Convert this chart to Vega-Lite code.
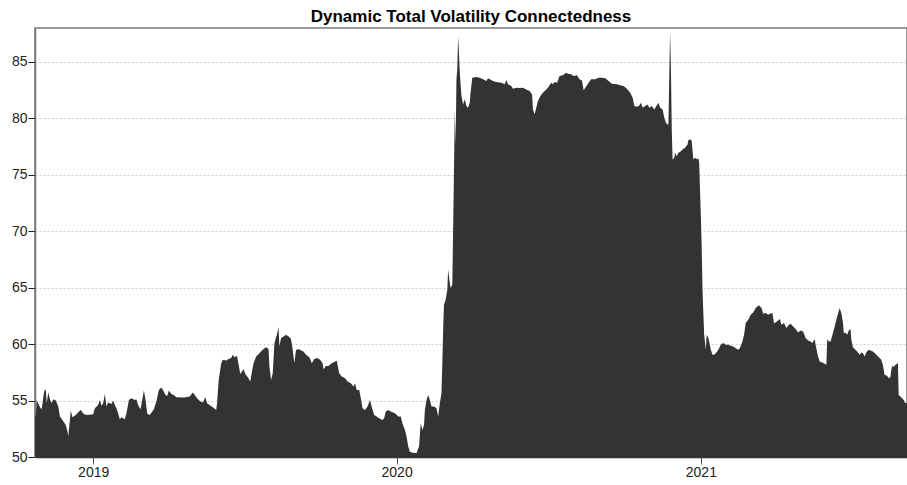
{
  "$schema": "https://vega.github.io/schema/vega-lite/v6.json",
  "width": 872,
  "height": 429,
  "autosize": {"type": "none"},
  "padding": {"left": 35, "top": 28, "right": 0, "bottom": 28},
  "background": "#ffffff",
  "title": {"text": "Dynamic Total Volatility Connectedness", "font": "Liberation Sans", "fontSize": 17, "fontWeight": "bold", "color": "#000000", "anchor": "middle", "offset": 2},
  "config": {"view": {"stroke": "#777777", "strokeWidth": 1.5}, "font": "Liberation Sans"},
  "data": {"values": [
    {"d": "2018-10-23", "tc": 53.6}, {"d": "2018-10-24", "tc": 53.6}, {"d": "2018-10-25", "tc": 55.06}, {"d": "2018-10-29", "tc": 54.41}, {"d": "2018-10-31", "tc": 54.23},
    {"d": "2018-11-03", "tc": 55.8}, {"d": "2018-11-05", "tc": 56.0}, {"d": "2018-11-06", "tc": 54.76}, {"d": "2018-11-08", "tc": 55.71}, {"d": "2018-11-10", "tc": 55.12},
    {"d": "2018-11-12", "tc": 54.76}, {"d": "2018-11-14", "tc": 55.12}, {"d": "2018-11-17", "tc": 55.0}, {"d": "2018-11-20", "tc": 54.47}, {"d": "2018-11-22", "tc": 53.58},
    {"d": "2018-11-25", "tc": 53.28}, {"d": "2018-11-29", "tc": 52.84}, {"d": "2018-12-01", "tc": 52.25}, {"d": "2018-12-02", "tc": 51.86}, {"d": "2018-12-04", "tc": 53.28},
    {"d": "2018-12-05", "tc": 54.11}, {"d": "2018-12-07", "tc": 53.52}, {"d": "2018-12-11", "tc": 53.73}, {"d": "2018-12-15", "tc": 54.02}, {"d": "2018-12-17", "tc": 54.17},
    {"d": "2018-12-21", "tc": 53.79}, {"d": "2018-12-25", "tc": 53.73}, {"d": "2019-01-01", "tc": 53.79}, {"d": "2019-01-03", "tc": 54.32}, {"d": "2019-01-07", "tc": 54.61},
    {"d": "2019-01-09", "tc": 55.06}, {"d": "2019-01-11", "tc": 54.53}, {"d": "2019-01-13", "tc": 54.76}, {"d": "2019-01-15", "tc": 55.59}, {"d": "2019-01-17", "tc": 54.47},
    {"d": "2019-01-19", "tc": 54.82}, {"d": "2019-01-23", "tc": 54.7}, {"d": "2019-01-25", "tc": 55.0}, {"d": "2019-01-27", "tc": 54.61}, {"d": "2019-01-29", "tc": 54.32},
    {"d": "2019-01-31", "tc": 53.87}, {"d": "2019-02-02", "tc": 53.34}, {"d": "2019-02-04", "tc": 53.52}, {"d": "2019-02-08", "tc": 53.34}, {"d": "2019-02-10", "tc": 53.87},
    {"d": "2019-02-13", "tc": 55.06}, {"d": "2019-02-16", "tc": 55.21}, {"d": "2019-02-20", "tc": 55.06}, {"d": "2019-02-22", "tc": 55.12}, {"d": "2019-02-24", "tc": 54.61},
    {"d": "2019-02-27", "tc": 54.23}, {"d": "2019-03-01", "tc": 55.06}, {"d": "2019-03-03", "tc": 55.89}, {"d": "2019-03-05", "tc": 55.06}, {"d": "2019-03-07", "tc": 53.82},
    {"d": "2019-03-10", "tc": 53.73}, {"d": "2019-03-12", "tc": 53.93}, {"d": "2019-03-15", "tc": 54.23}, {"d": "2019-03-18", "tc": 54.91}, {"d": "2019-03-21", "tc": 55.94},
    {"d": "2019-03-24", "tc": 56.15}, {"d": "2019-03-26", "tc": 55.94}, {"d": "2019-03-29", "tc": 55.5}, {"d": "2019-03-31", "tc": 55.41}, {"d": "2019-04-02", "tc": 55.89},
    {"d": "2019-04-05", "tc": 55.59}, {"d": "2019-04-08", "tc": 55.5}, {"d": "2019-04-11", "tc": 55.29}, {"d": "2019-04-21", "tc": 55.26}, {"d": "2019-04-27", "tc": 55.35},
    {"d": "2019-05-01", "tc": 55.71}, {"d": "2019-05-04", "tc": 55.41}, {"d": "2019-05-07", "tc": 55.12}, {"d": "2019-05-10", "tc": 54.91}, {"d": "2019-05-13", "tc": 54.82},
    {"d": "2019-05-16", "tc": 55.29}, {"d": "2019-05-18", "tc": 54.76}, {"d": "2019-05-21", "tc": 54.61}, {"d": "2019-05-25", "tc": 54.41}, {"d": "2019-05-29", "tc": 54.17},
    {"d": "2019-05-30", "tc": 54.76}, {"d": "2019-06-01", "tc": 56.83}, {"d": "2019-06-04", "tc": 58.31}, {"d": "2019-06-06", "tc": 58.61}, {"d": "2019-06-10", "tc": 58.55},
    {"d": "2019-06-13", "tc": 58.67}, {"d": "2019-06-16", "tc": 58.76}, {"d": "2019-06-18", "tc": 59.05}, {"d": "2019-06-20", "tc": 58.84}, {"d": "2019-06-23", "tc": 58.96},
    {"d": "2019-06-25", "tc": 58.16}, {"d": "2019-06-27", "tc": 57.36}, {"d": "2019-06-29", "tc": 57.57}, {"d": "2019-07-01", "tc": 57.78}, {"d": "2019-07-03", "tc": 57.36},
    {"d": "2019-07-06", "tc": 57.07}, {"d": "2019-07-09", "tc": 56.68}, {"d": "2019-07-11", "tc": 57.57}, {"d": "2019-07-13", "tc": 58.31}, {"d": "2019-07-16", "tc": 58.9},
    {"d": "2019-07-20", "tc": 59.2}, {"d": "2019-07-23", "tc": 59.43}, {"d": "2019-07-26", "tc": 59.64}, {"d": "2019-07-29", "tc": 59.73}, {"d": "2019-07-31", "tc": 59.49},
    {"d": "2019-08-01", "tc": 58.02}, {"d": "2019-08-03", "tc": 56.83}, {"d": "2019-08-05", "tc": 57.42}, {"d": "2019-08-07", "tc": 60.03}, {"d": "2019-08-09", "tc": 60.62},
    {"d": "2019-08-10", "tc": 60.83}, {"d": "2019-08-12", "tc": 61.51}, {"d": "2019-08-13", "tc": 59.79}, {"d": "2019-08-15", "tc": 60.53}, {"d": "2019-08-18", "tc": 60.68},
    {"d": "2019-08-21", "tc": 60.83}, {"d": "2019-08-25", "tc": 60.62}, {"d": "2019-08-27", "tc": 60.44}, {"d": "2019-08-29", "tc": 59.49}, {"d": "2019-08-31", "tc": 58.31},
    {"d": "2019-09-02", "tc": 59.49}, {"d": "2019-09-06", "tc": 59.55}, {"d": "2019-09-08", "tc": 59.43}, {"d": "2019-09-11", "tc": 59.35}, {"d": "2019-09-14", "tc": 59.05},
    {"d": "2019-09-18", "tc": 58.84}, {"d": "2019-09-21", "tc": 58.31}, {"d": "2019-09-24", "tc": 58.67}, {"d": "2019-09-27", "tc": 58.76}, {"d": "2019-10-01", "tc": 58.61},
    {"d": "2019-10-04", "tc": 58.31}, {"d": "2019-10-05", "tc": 57.78}, {"d": "2019-10-08", "tc": 58.07}, {"d": "2019-10-11", "tc": 58.07}, {"d": "2019-10-15", "tc": 58.31},
    {"d": "2019-10-19", "tc": 58.46}, {"d": "2019-10-21", "tc": 58.52}, {"d": "2019-10-24", "tc": 57.42}, {"d": "2019-10-27", "tc": 57.13}, {"d": "2019-10-31", "tc": 56.98},
    {"d": "2019-11-03", "tc": 56.68}, {"d": "2019-11-07", "tc": 56.54}, {"d": "2019-11-10", "tc": 56.24}, {"d": "2019-11-12", "tc": 56.54}, {"d": "2019-11-14", "tc": 55.94},
    {"d": "2019-11-17", "tc": 55.94}, {"d": "2019-11-19", "tc": 55.21}, {"d": "2019-11-21", "tc": 54.32}, {"d": "2019-11-24", "tc": 54.17}, {"d": "2019-11-27", "tc": 54.47},
    {"d": "2019-11-30", "tc": 55.06}, {"d": "2019-12-02", "tc": 54.47}, {"d": "2019-12-05", "tc": 53.73}, {"d": "2019-12-08", "tc": 53.58}, {"d": "2019-12-11", "tc": 53.43},
    {"d": "2019-12-15", "tc": 53.28}, {"d": "2019-12-17", "tc": 53.43}, {"d": "2019-12-19", "tc": 54.02}, {"d": "2019-12-22", "tc": 54.17}, {"d": "2019-12-25", "tc": 54.02},
    {"d": "2019-12-30", "tc": 53.87}, {"d": "2020-01-03", "tc": 53.58}, {"d": "2020-01-06", "tc": 53.58}, {"d": "2020-01-08", "tc": 52.99}, {"d": "2020-01-11", "tc": 52.4},
    {"d": "2020-01-13", "tc": 51.8}, {"d": "2020-01-15", "tc": 50.92}, {"d": "2020-01-17", "tc": 50.47}, {"d": "2020-01-20", "tc": 50.38}, {"d": "2020-01-22", "tc": 50.38},
    {"d": "2020-01-25", "tc": 50.33}, {"d": "2020-01-26", "tc": 50.56}, {"d": "2020-01-28", "tc": 50.92}, {"d": "2020-01-30", "tc": 52.99}, {"d": "2020-02-01", "tc": 52.4},
    {"d": "2020-02-03", "tc": 52.84}, {"d": "2020-02-04", "tc": 54.17}, {"d": "2020-02-06", "tc": 55.06}, {"d": "2020-02-08", "tc": 55.5}, {"d": "2020-02-10", "tc": 55.06},
    {"d": "2020-02-12", "tc": 54.47}, {"d": "2020-02-15", "tc": 54.47}, {"d": "2020-02-18", "tc": 54.32}, {"d": "2020-02-20", "tc": 53.58}, {"d": "2020-02-22", "tc": 54.76},
    {"d": "2020-02-24", "tc": 55.65}, {"d": "2020-02-25", "tc": 58.31}, {"d": "2020-02-26", "tc": 61.27}, {"d": "2020-02-27", "tc": 63.49}, {"d": "2020-02-29", "tc": 63.93},
    {"d": "2020-03-02", "tc": 64.82}, {"d": "2020-03-03", "tc": 66.59}, {"d": "2020-03-05", "tc": 65.41}, {"d": "2020-03-06", "tc": 64.97}, {"d": "2020-03-08", "tc": 65.26},
    {"d": "2020-03-09", "tc": 70.14}, {"d": "2020-03-10", "tc": 75.17}, {"d": "2020-03-11", "tc": 80.79}, {"d": "2020-03-12", "tc": 77.68}, {"d": "2020-03-13", "tc": 83.45},
    {"d": "2020-03-14", "tc": 84.34}, {"d": "2020-03-15", "tc": 87.24}, {"d": "2020-03-16", "tc": 85.82}, {"d": "2020-03-17", "tc": 84.04}, {"d": "2020-03-19", "tc": 81.97},
    {"d": "2020-03-21", "tc": 81.23}, {"d": "2020-03-23", "tc": 81.68}, {"d": "2020-03-25", "tc": 81.09}, {"d": "2020-03-27", "tc": 80.94}, {"d": "2020-03-29", "tc": 81.38},
    {"d": "2020-03-30", "tc": 82.27}, {"d": "2020-04-01", "tc": 83.6}, {"d": "2020-04-06", "tc": 83.66}, {"d": "2020-04-10", "tc": 83.6}, {"d": "2020-04-14", "tc": 83.45},
    {"d": "2020-04-18", "tc": 83.3}, {"d": "2020-04-20", "tc": 83.54}, {"d": "2020-04-22", "tc": 83.45}, {"d": "2020-04-26", "tc": 83.3}, {"d": "2020-04-30", "tc": 83.21},
    {"d": "2020-05-06", "tc": 83.16}, {"d": "2020-05-10", "tc": 83.01}, {"d": "2020-05-12", "tc": 83.39}, {"d": "2020-05-14", "tc": 83.01}, {"d": "2020-05-18", "tc": 82.86},
    {"d": "2020-05-20", "tc": 82.62}, {"d": "2020-05-24", "tc": 82.71}, {"d": "2020-05-28", "tc": 82.68}, {"d": "2020-06-01", "tc": 82.71}, {"d": "2020-06-05", "tc": 82.56},
    {"d": "2020-06-09", "tc": 82.42}, {"d": "2020-06-12", "tc": 82.12}, {"d": "2020-06-13", "tc": 80.79}, {"d": "2020-06-15", "tc": 80.35}, {"d": "2020-06-17", "tc": 80.94},
    {"d": "2020-06-19", "tc": 81.53}, {"d": "2020-06-22", "tc": 81.97}, {"d": "2020-06-25", "tc": 82.27}, {"d": "2020-06-29", "tc": 82.56}, {"d": "2020-07-01", "tc": 82.71},
    {"d": "2020-07-05", "tc": 83.16}, {"d": "2020-07-07", "tc": 83.01}, {"d": "2020-07-09", "tc": 83.21}, {"d": "2020-07-12", "tc": 83.16}, {"d": "2020-07-15", "tc": 83.75},
    {"d": "2020-07-19", "tc": 83.81}, {"d": "2020-07-23", "tc": 84.04}, {"d": "2020-07-25", "tc": 83.95}, {"d": "2020-07-29", "tc": 83.9}, {"d": "2020-08-01", "tc": 83.75},
    {"d": "2020-08-05", "tc": 83.81}, {"d": "2020-08-08", "tc": 83.45}, {"d": "2020-08-11", "tc": 83.36}, {"d": "2020-08-13", "tc": 82.48}, {"d": "2020-08-15", "tc": 82.71},
    {"d": "2020-08-19", "tc": 83.16}, {"d": "2020-08-22", "tc": 83.45}, {"d": "2020-08-27", "tc": 83.45}, {"d": "2020-08-31", "tc": 83.6}, {"d": "2020-09-04", "tc": 83.6},
    {"d": "2020-09-08", "tc": 83.54}, {"d": "2020-09-12", "tc": 83.3}, {"d": "2020-09-16", "tc": 83.07}, {"d": "2020-09-22", "tc": 83.01}, {"d": "2020-09-26", "tc": 82.92},
    {"d": "2020-09-30", "tc": 82.86}, {"d": "2020-10-04", "tc": 82.62}, {"d": "2020-10-08", "tc": 82.27}, {"d": "2020-10-11", "tc": 81.82}, {"d": "2020-10-13", "tc": 81.09},
    {"d": "2020-10-16", "tc": 81.03}, {"d": "2020-10-19", "tc": 81.14}, {"d": "2020-10-21", "tc": 81.38}, {"d": "2020-10-23", "tc": 80.94}, {"d": "2020-10-26", "tc": 81.09},
    {"d": "2020-10-29", "tc": 81.23}, {"d": "2020-10-31", "tc": 80.94}, {"d": "2020-11-03", "tc": 81.09}, {"d": "2020-11-06", "tc": 80.79}, {"d": "2020-11-08", "tc": 81.03},
    {"d": "2020-11-11", "tc": 81.38}, {"d": "2020-11-13", "tc": 80.94}, {"d": "2020-11-16", "tc": 80.79}, {"d": "2020-11-18", "tc": 80.05}, {"d": "2020-11-20", "tc": 79.61},
    {"d": "2020-11-22", "tc": 79.46}, {"d": "2020-11-23", "tc": 79.46}, {"d": "2020-11-24", "tc": 83.6}, {"d": "2020-11-25", "tc": 87.65}, {"d": "2020-11-26", "tc": 84.49},
    {"d": "2020-11-27", "tc": 79.02}, {"d": "2020-11-28", "tc": 76.35}, {"d": "2020-11-30", "tc": 76.5}, {"d": "2020-12-01", "tc": 76.95}, {"d": "2020-12-03", "tc": 76.65},
    {"d": "2020-12-05", "tc": 76.95}, {"d": "2020-12-08", "tc": 77.09}, {"d": "2020-12-10", "tc": 77.24}, {"d": "2020-12-13", "tc": 77.39}, {"d": "2020-12-16", "tc": 77.68},
    {"d": "2020-12-17", "tc": 78.07}, {"d": "2020-12-20", "tc": 78.13}, {"d": "2020-12-21", "tc": 77.98}, {"d": "2020-12-23", "tc": 76.35}, {"d": "2020-12-25", "tc": 76.5},
    {"d": "2020-12-28", "tc": 76.35}, {"d": "2020-12-29", "tc": 76.5}, {"d": "2020-12-30", "tc": 76.06}, {"d": "2021-01-01", "tc": 71.32}, {"d": "2021-01-02", "tc": 68.66},
    {"d": "2021-01-03", "tc": 64.82}, {"d": "2021-01-04", "tc": 62.75}, {"d": "2021-01-05", "tc": 60.83}, {"d": "2021-01-07", "tc": 59.49}, {"d": "2021-01-08", "tc": 60.83},
    {"d": "2021-01-10", "tc": 60.53}, {"d": "2021-01-11", "tc": 60.23}, {"d": "2021-01-13", "tc": 59.49}, {"d": "2021-01-15", "tc": 59.05}, {"d": "2021-01-17", "tc": 59.05},
    {"d": "2021-01-19", "tc": 59.2}, {"d": "2021-01-22", "tc": 59.49}, {"d": "2021-01-25", "tc": 59.94}, {"d": "2021-01-28", "tc": 60.09}, {"d": "2021-01-31", "tc": 59.94},
    {"d": "2021-02-03", "tc": 59.94}, {"d": "2021-02-06", "tc": 59.85}, {"d": "2021-02-09", "tc": 59.79}, {"d": "2021-02-12", "tc": 59.64}, {"d": "2021-02-15", "tc": 59.49},
    {"d": "2021-02-17", "tc": 59.64}, {"d": "2021-02-20", "tc": 60.23}, {"d": "2021-02-22", "tc": 60.83}, {"d": "2021-02-24", "tc": 61.86}, {"d": "2021-02-27", "tc": 62.16},
    {"d": "2021-03-02", "tc": 62.6}, {"d": "2021-03-05", "tc": 62.81}, {"d": "2021-03-08", "tc": 63.19}, {"d": "2021-03-10", "tc": 63.34}, {"d": "2021-03-12", "tc": 63.45},
    {"d": "2021-03-15", "tc": 63.19}, {"d": "2021-03-17", "tc": 62.69}, {"d": "2021-03-20", "tc": 62.75}, {"d": "2021-03-23", "tc": 62.6}, {"d": "2021-03-25", "tc": 62.69},
    {"d": "2021-03-28", "tc": 62.75}, {"d": "2021-03-30", "tc": 61.86}, {"d": "2021-04-01", "tc": 61.92}, {"d": "2021-04-04", "tc": 62.1}, {"d": "2021-04-06", "tc": 62.22},
    {"d": "2021-04-08", "tc": 61.71}, {"d": "2021-04-11", "tc": 61.86}, {"d": "2021-04-14", "tc": 61.42}, {"d": "2021-04-17", "tc": 61.71}, {"d": "2021-04-19", "tc": 61.8},
    {"d": "2021-04-22", "tc": 61.56}, {"d": "2021-04-25", "tc": 61.33}, {"d": "2021-04-28", "tc": 61.03}, {"d": "2021-05-01", "tc": 61.21}, {"d": "2021-05-04", "tc": 61.12},
    {"d": "2021-05-07", "tc": 60.53}, {"d": "2021-05-10", "tc": 60.32}, {"d": "2021-05-13", "tc": 60.23}, {"d": "2021-05-15", "tc": 60.09}, {"d": "2021-05-18", "tc": 60.44},
    {"d": "2021-05-19", "tc": 59.94}, {"d": "2021-05-22", "tc": 58.9}, {"d": "2021-05-24", "tc": 58.46}, {"d": "2021-05-27", "tc": 58.37}, {"d": "2021-05-30", "tc": 58.25},
    {"d": "2021-06-01", "tc": 58.16}, {"d": "2021-06-02", "tc": 60.44}, {"d": "2021-06-04", "tc": 60.23}, {"d": "2021-06-06", "tc": 60.23}, {"d": "2021-06-08", "tc": 60.74},
    {"d": "2021-06-11", "tc": 61.56}, {"d": "2021-06-13", "tc": 62.16}, {"d": "2021-06-15", "tc": 62.69}, {"d": "2021-06-17", "tc": 63.19}, {"d": "2021-06-19", "tc": 62.75},
    {"d": "2021-06-21", "tc": 61.86}, {"d": "2021-06-22", "tc": 60.97}, {"d": "2021-06-24", "tc": 61.03}, {"d": "2021-06-26", "tc": 60.83}, {"d": "2021-06-28", "tc": 61.21},
    {"d": "2021-06-30", "tc": 61.33}, {"d": "2021-07-01", "tc": 60.38}, {"d": "2021-07-03", "tc": 59.73}, {"d": "2021-07-06", "tc": 59.49}, {"d": "2021-07-08", "tc": 59.35},
    {"d": "2021-07-11", "tc": 59.05}, {"d": "2021-07-13", "tc": 59.26}, {"d": "2021-07-15", "tc": 59.2}, {"d": "2021-07-17", "tc": 58.9}, {"d": "2021-07-19", "tc": 59.26},
    {"d": "2021-07-22", "tc": 59.49}, {"d": "2021-07-24", "tc": 59.43}, {"d": "2021-07-27", "tc": 59.35}, {"d": "2021-07-30", "tc": 59.14}, {"d": "2021-08-02", "tc": 58.9},
    {"d": "2021-08-04", "tc": 58.76}, {"d": "2021-08-06", "tc": 58.61}, {"d": "2021-08-08", "tc": 58.16}, {"d": "2021-08-10", "tc": 57.28}, {"d": "2021-08-13", "tc": 57.19},
    {"d": "2021-08-15", "tc": 56.98}, {"d": "2021-08-17", "tc": 57.07}, {"d": "2021-08-19", "tc": 58.16}, {"d": "2021-08-20", "tc": 57.96}, {"d": "2021-08-23", "tc": 58.16},
    {"d": "2021-08-25", "tc": 58.25}, {"d": "2021-08-26", "tc": 58.37}, {"d": "2021-08-27", "tc": 55.5}, {"d": "2021-08-30", "tc": 55.29}, {"d": "2021-09-02", "tc": 55.06},
    {"d": "2021-09-03", "tc": 54.82}, {"d": "2021-09-06", "tc": 54.76}
  ]},
  "mark": {"type": "area", "color": "#333333", "clip": true},
  "encoding": {
    "x": {
      "field": "d", "type": "temporal",
      "scale": {"type": "utc", "domain": [{"year": 2018, "month": 10, "date": 23, "utc": true}, {"year": 2021, "month": 9, "date": 6, "utc": true}]},
      "axis": {
        "title": null, "format": "%Y", "grid": false,
        "values": [{"year": 2019, "month": 1, "date": 1, "utc": true}, {"year": 2020, "month": 1, "date": 1, "utc": true}, {"year": 2021, "month": 1, "date": 1, "utc": true}],
        "tickSize": 7, "tickColor": "#555555", "tickWidth": 1,
        "labelFontSize": 14, "labelColor": "#222222", "labelPadding": 1, "labelFont": "Liberation Sans",
        "domainColor": "#333333", "domainWidth": 1.5
      }
    },
    "y": {
      "field": "tc", "type": "quantitative",
      "scale": {"domain": [50, 88], "zero": false, "nice": false},
      "axis": {
        "title": null, "values": [50, 55, 60, 65, 70, 75, 80, 85],
        "grid": true, "gridDash": [2, 2], "gridColor": "#cccccc", "gridWidth": 1,
        "tickSize": 7, "tickColor": "#222222", "tickWidth": 1,
        "labelFontSize": 14, "labelColor": "#222222", "labelPadding": 1, "labelFont": "Liberation Sans",
        "domainColor": "#777777", "domainWidth": 1.5
      }
    }
  }
}
